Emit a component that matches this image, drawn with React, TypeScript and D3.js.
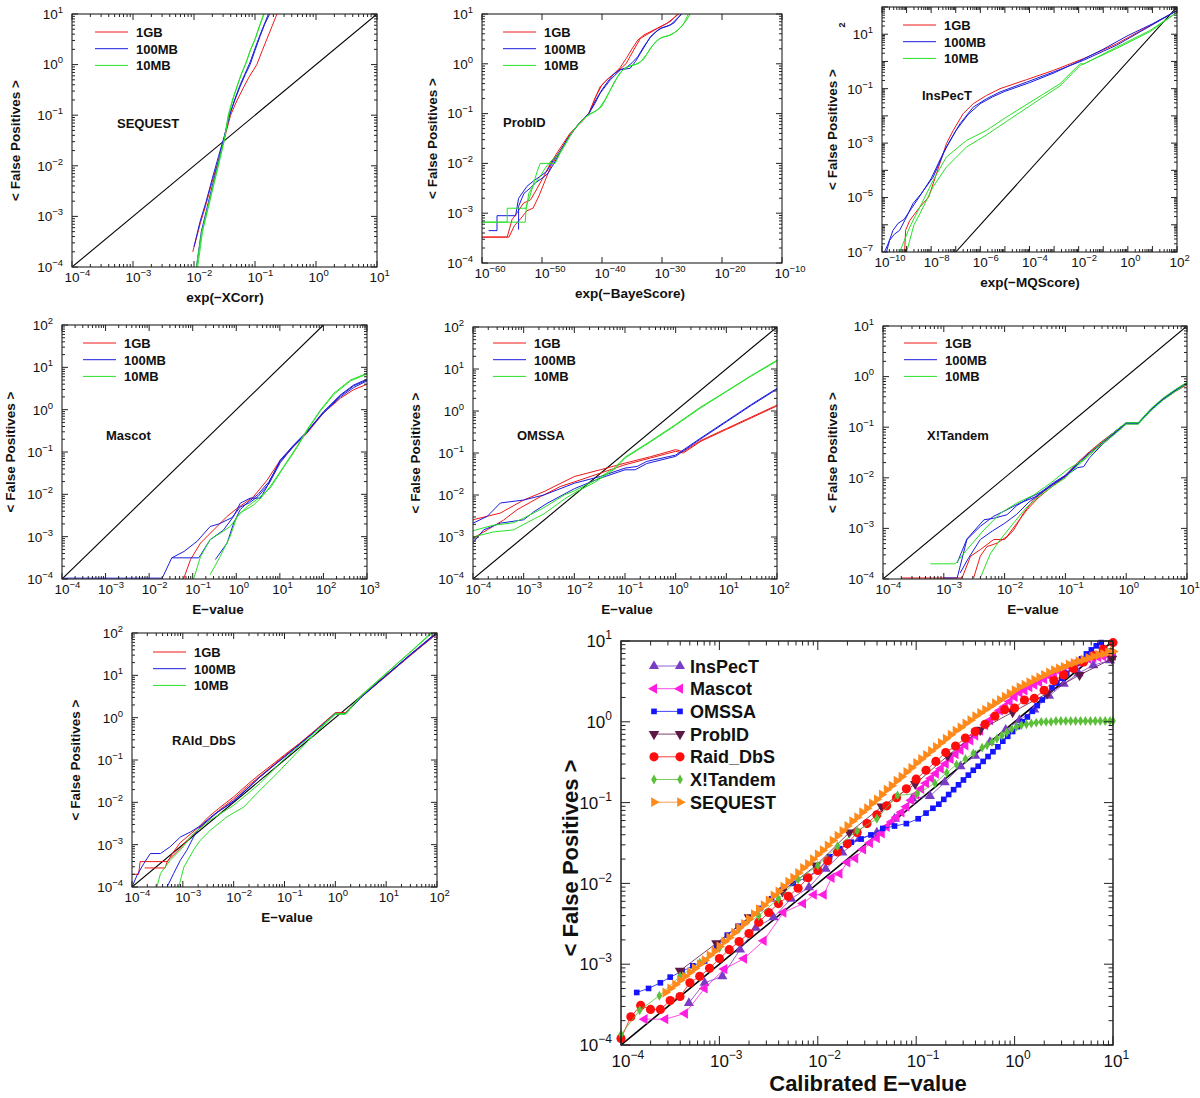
import React from "react";
import * as d3 from "d3";

type P = [number, number]; // [log10 score, log10 <False Positives>]

// ---------------- SEQUEST panel ----------------
const seqRed1: P[] = [[-2.02,-3.7],[-1.9,-3.15],[-1.8,-2.75],[-1.7,-2.3],[-1.6,-1.9],[-1.5,-1.45],[-1.4,-1.0],[-1.3,-0.72],[-1.2,-0.48],[-1.1,-0.25],[-0.97,0],[-0.88,0.28],[-0.8,0.52],[-0.72,0.76],[-0.64,1.0]];
const seqBlue1: P[] = [[-2.0,-3.6],[-1.9,-3.1],[-1.8,-2.7],[-1.7,-2.25],[-1.6,-1.82],[-1.5,-1.4],[-1.42,-1.0],[-1.33,-0.7],[-1.25,-0.45],[-1.16,-0.2],[-1.08,0],[-1.0,0.28],[-0.92,0.55],[-0.84,0.8],[-0.76,1.0]];
const seqBlue2: P[] = [[-1.96,-4.0],[-1.88,-3.3],[-1.78,-2.8],[-1.68,-2.3],[-1.58,-1.82],[-1.5,-1.42],[-1.42,-1.02],[-1.33,-0.68],[-1.25,-0.42],[-1.16,-0.17],[-1.08,0.05],[-1.0,0.32],[-0.92,0.58],[-0.84,0.82],[-0.78,1.0]];
const seqGreen1: P[] = [[-1.96,-4.0],[-1.88,-3.35],[-1.78,-2.85],[-1.68,-2.35],[-1.58,-1.85],[-1.5,-1.45],[-1.44,-1.0],[-1.37,-0.7],[-1.3,-0.45],[-1.23,-0.2],[-1.16,0],[-1.08,0.27],[-1.0,0.5],[-0.93,0.75],[-0.86,1.0]];
const seqGreen2: P[] = [[-1.94,-4.0],[-1.86,-3.3],[-1.76,-2.8],[-1.66,-2.3],[-1.57,-1.85],[-1.5,-1.48],[-1.43,-1.0],[-1.36,-0.68],[-1.29,-0.42],[-1.22,-0.18],[-1.15,0.02],[-1.07,0.3],[-0.99,0.53],[-0.92,0.78],[-0.85,1.0]];

// ---------------- ProbID panel ----------------
const pidRed1: P[] = [[-60,-3.48],[-55.8,-3.48],[-55,-3.13],[-54.2,-3.0],[-53.1,-2.8],[-51.9,-2.73],[-50.8,-2.5],[-49.7,-2.26],[-48.6,-2.0],[-47.5,-1.79],[-46.4,-1.59],[-45.3,-1.39],[-44.2,-1.26],[-43.1,-1.13],[-42.2,-1.0],[-41.2,-0.7],[-40.3,-0.46],[-38.9,-0.29],[-37.5,-0.16],[-36,0.0],[-34.7,0.28],[-33.6,0.51],[-32.2,0.61],[-30.8,0.71],[-29.2,0.81],[-27.2,1.0]];
const pidRed2: P[] = [[-60,-3.48],[-55.5,-3.48],[-54.6,-3.25],[-53.5,-3.1],[-52.5,-2.95],[-51.5,-2.9],[-50.5,-2.65],[-49.5,-2.35],[-48.5,-2.05],[-47.5,-1.85],[-46.5,-1.65],[-45.5,-1.45],[-44.5,-1.3],[-43.5,-1.15],[-42.2,-1.0],[-41,-0.65],[-40,-0.42],[-39,-0.3],[-38,-0.2],[-37,-0.08],[-36,0.1],[-35,0.3],[-34,0.48],[-33,0.58],[-31.5,0.67],[-30,0.76],[-28.5,0.86],[-27.4,1.0]];
const pidBlue1: P[] = [[-58.9,-3.35],[-57.5,-3.35],[-57.5,-3.05],[-54.4,-3.05],[-53.9,-2.7],[-52.5,-2.46],[-51.4,-2.35],[-50.3,-2.26],[-49.2,-2.16],[-48.2,-1.95],[-47,-1.75],[-45.8,-1.53],[-44.2,-1.25],[-42.2,-1.0],[-41.2,-0.8],[-40.3,-0.59],[-38.6,-0.32],[-36.9,-0.12],[-35.3,-0.09],[-34.4,0.05],[-33.6,0.21],[-31.9,0.55],[-30.3,0.71],[-28.6,0.78],[-26.7,1.0]];
const pidBlue2: P[] = [[-53.9,-3.33],[-53.9,-2.86],[-53,-2.6],[-52,-2.5],[-51,-2.38],[-50,-2.3],[-49,-2.2],[-48,-2.0],[-47,-1.78],[-46,-1.55],[-45,-1.38],[-44,-1.22],[-43,-1.1],[-42.2,-1.0],[-41,-0.72],[-40,-0.52],[-39,-0.35],[-38,-0.2],[-37,-0.12],[-36,-0.08],[-35,0.02],[-34,0.15],[-33,0.35],[-32,0.52],[-31,0.65],[-30,0.72],[-29,0.76],[-28,0.82],[-26.8,1.0]];
const pidGreen1: P[] = [[-60,-3.18],[-52.8,-3.18],[-52.6,-2.85],[-52,-2.65],[-50.8,-2.16],[-50.3,-2.0],[-47.8,-2.0],[-47,-1.8],[-46,-1.6],[-45,-1.38],[-44,-1.22],[-43,-1.1],[-42,-1.0],[-41,-0.95],[-40,-0.85],[-39,-0.62],[-38,-0.38],[-37,-0.18],[-36,-0.07],[-35,-0.03],[-34,0.0],[-33,0.1],[-32,0.3],[-31,0.45],[-30,0.53],[-29,0.56],[-28,0.62],[-27,0.72],[-26,0.86],[-25.3,1.0]];
const pidGreen2: P[] = [[-60,-3.18],[-55.8,-3.18],[-55.8,-2.9],[-52.6,-2.9],[-52.2,-2.6],[-51.2,-2.4],[-50.5,-2.3],[-49.5,-2.1],[-48.5,-1.95],[-47.5,-1.85],[-46.5,-1.68],[-45.5,-1.48],[-44.5,-1.3],[-43.5,-1.16],[-42.5,-1.05],[-41.5,-0.98],[-40.5,-0.9],[-39.5,-0.72],[-38.5,-0.5],[-37.5,-0.28],[-36.5,-0.12],[-35.5,-0.05],[-34.5,-0.02],[-33.5,0.05],[-32.5,0.2],[-31.5,0.38],[-30.5,0.5],[-29.5,0.55],[-28.5,0.58],[-27.5,0.66],[-26.5,0.78],[-25.6,1.0]];

// ---------------- InsPecT panel ----------------
const insRed1: P[] = [[-9.08,-7],[-9.04,-6.2],[-8.87,-5.84],[-8.46,-5.35],[-8.1,-4.98],[-7.92,-4.49],[-7.65,-3.76],[-7.38,-3.02],[-7.1,-2.53],[-6.7,-1.92],[-6.29,-1.55],[-5.75,-1.25],[-5.2,-1.0],[-4.12,-0.67],[-3.03,-0.33],[-1.81,0.1],[-0.45,0.65],[0.91,1.32],[2,1.87]];
const insBlue1: P[] = [[-9.82,-7],[-9.69,-6.57],[-9.5,-6.35],[-9.28,-6.2],[-9.0,-5.71],[-8.74,-5.22],[-8.4,-4.85],[-7.92,-4.25],[-7.38,-3.14],[-6.83,-2.29],[-6.29,-1.68],[-5.75,-1.37],[-5.2,-1.12],[-4.12,-0.76],[-3.03,-0.39],[-1.81,0.04],[-0.45,0.6],[0.91,1.3],[2,1.87]];
const insBlue2: P[] = [[-9.9,-7],[-9.75,-6.7],[-9.55,-6.2],[-9.35,-5.95],[-9.1,-5.8],[-8.8,-5.4],[-8.5,-5.0],[-8.0,-4.3],[-7.5,-3.35],[-7.0,-2.55],[-6.5,-1.95],[-6.0,-1.55],[-5.5,-1.3],[-5.0,-1.1],[-4.0,-0.78],[-3.0,-0.42],[-2.0,0.0],[-1.0,0.45],[0,0.95],[1,1.38],[2,1.87]];
const insGreen1: P[] = [[-9.28,-7],[-8.87,-6.08],[-8.46,-5.35],[-7.92,-4.37],[-7.38,-3.51],[-6.56,-2.9],[-5.75,-2.53],[-4.93,-2.04],[-3.85,-1.43],[-2.76,-0.82],[-1.94,-0.08],[-1.8,-0.1],[-0.45,0.53],[0.91,1.14],[2,1.81]];
const insGreen2: P[] = [[-9.0,-7],[-8.7,-6.0],[-8.46,-5.6],[-7.92,-4.6],[-7.38,-3.88],[-6.56,-3.14],[-5.75,-2.7],[-4.93,-2.2],[-3.85,-1.55],[-2.76,-0.9],[-1.94,-0.15],[-0.45,0.48],[0.91,1.1],[2,1.8]];

// ---------------- Mascot panel ----------------
const masRed1: P[] = [[-1.21,-4],[-1.05,-3.54],[-0.82,-3.15],[-0.52,-2.84],[-0.21,-2.52],[0.02,-2.33],[0.2,-2.2],[0.4,-2.05],[0.71,-1.66],[1.01,-1.19],[1.32,-0.87],[1.62,-0.56],[2.0,-0.08],[2.39,0.27],[2.69,0.47],[3,0.6]];
const masBlue1: P[] = [[-4,-3.98],[-1.7,-3.98],[-1.48,-3.5],[-0.86,-3.5],[-0.6,-3.07],[-0.3,-2.85],[-0.06,-2.52],[0.09,-2.21],[0.32,-2.09],[0.55,-2.09],[0.71,-1.81],[1.01,-1.19],[1.32,-0.83],[1.62,-0.52],[2,-0.05],[2.39,0.35],[2.69,0.58],[3,0.72]];
const masBlue2: P[] = [[-1.48,-3.5],[-1.2,-3.35],[-0.95,-3.15],[-0.9,-3.11],[-0.6,-2.76],[-0.4,-2.7],[-0.1,-2.55],[0.09,-2.3],[0.3,-2.2],[0.5,-2.05],[0.75,-1.75],[1.01,-1.25],[1.32,-0.85],[1.62,-0.52],[2,-0.08],[2.39,0.3],[2.69,0.52],[3,0.68]];
const masBlue3: P[] = [[-0.48,-3.54],[-0.21,-3.15],[-0.06,-2.68],[0.09,-2.36],[0.25,-2.2],[0.5,-2.0],[0.75,-1.7],[1.01,-1.22],[1.32,-0.86],[1.62,-0.54],[2,-0.06],[2.39,0.33],[2.69,0.56],[3,0.7]];
const masGreen1: P[] = [[-0.98,-4],[-0.82,-3.47],[-0.6,-3.07],[-0.37,-2.92],[-0.14,-2.76],[0.09,-2.44],[0.4,-2.25],[0.6,-2.05],[0.78,-1.81],[1.09,-1.34],[1.39,-0.87],[1.62,-0.48],[1.93,-0.01],[2.24,0.39],[2.62,0.7],[3,0.86]];
const masGreen2: P[] = [[-0.6,-3.9],[-0.37,-3.47],[-0.14,-2.99],[0.02,-2.52],[0.25,-2.29],[0.5,-2.1],[0.78,-1.85],[1.09,-1.36],[1.39,-0.9],[1.62,-0.5],[1.93,-0.03],[2.24,0.36],[2.62,0.68],[3,0.84]];

// ---------------- OMSSA panel ----------------
const omsRed1: P[] = [[-4,-2.59],[-3.46,-2.43],[-3,-2.12],[-2.6,-1.92],[-2,-1.56],[-1.49,-1.4],[-1,-1.24],[-0.5,-1.09],[0,-0.92],[0.15,-0.97],[0.5,-0.7],[1,-0.42],[1.5,-0.14],[2,0.14]];
const omsRed2: P[] = [[-4,-3.03],[-3.72,-2.83],[-3.4,-2.6],[-3.13,-2.35],[-2.67,-2.04],[-2.28,-1.8],[-1.88,-1.64],[-1.49,-1.48],[-1,-1.28],[-0.5,-1.12],[0,-0.96],[0.15,-1.0],[0.5,-0.72],[1,-0.44],[1.5,-0.16],[2,0.12]];
const omsBlue1: P[] = [[-4,-2.67],[-3.72,-2.51],[-3.46,-2.19],[-3,-2.12],[-2.6,-2.0],[-2,-1.72],[-1.49,-1.56],[-1,-1.36],[-0.76,-1.32],[-0.57,-1.2],[0,-1.05],[0.5,-0.64],[1,-0.24],[1.5,0.16],[2,0.54]];
const omsBlue2: P[] = [[-4,-3.14],[-3.79,-2.83],[-3.46,-2.67],[-3,-2.59],[-2.8,-2.4],[-2.54,-2.2],[-2,-1.85],[-1.49,-1.6],[-1,-1.4],[-0.8,-1.4],[-0.57,-1.25],[0,-1.08],[0.5,-0.66],[1,-0.26],[1.5,0.14],[2,0.52]];
const omsGreen1: P[] = [[-4,-2.85],[-3.6,-2.72],[-3.2,-2.66],[-3.0,-2.55],[-2.6,-2.3],[-2.2,-2.0],[-2.0,-1.9],[-1.6,-1.66],[-1.2,-1.35],[-1,-1.1],[-0.5,-0.72],[0,-0.32],[0.5,0.1],[1,0.47],[1.5,0.85],[2,1.21]];
const omsGreen2: P[] = [[-4,-3.0],[-3.6,-2.88],[-3.2,-2.83],[-3.0,-2.7],[-2.6,-2.45],[-2.2,-2.1],[-2.0,-1.95],[-1.6,-1.7],[-1.2,-1.38],[-1,-1.12],[-0.5,-0.74],[0,-0.34],[0.5,0.08],[1,0.46],[1.5,0.84],[2,1.19]];

// ---------------- X!Tandem panel ----------------
const xtRed1: P[] = [[-3.7,-3.98],[-2.7,-3.98],[-2.56,-3.55],[-2.4,-3.42],[-2.18,-3.22],[-2.0,-3.22],[-1.85,-3.03],[-1.69,-2.7],[-1.52,-2.43],[-1.2,-2.12],[-1.0,-1.95],[-0.8,-1.7],[-0.6,-1.48],[-0.4,-1.28],[-0.2,-1.1],[0,-0.92],[0.2,-0.92],[0.4,-0.66],[0.6,-0.46],[0.8,-0.3],[1,-0.16]];
const xtRed2: P[] = [[-2.51,-3.98],[-2.4,-3.55],[-2.29,-3.36],[-2.12,-3.29],[-1.96,-3.16],[-1.8,-2.9],[-1.63,-2.63],[-1.45,-2.4],[-1.2,-2.15],[-1.0,-1.98],[-0.8,-1.73],[-0.6,-1.52],[-0.4,-1.32],[-0.2,-1.13],[0,-0.93],[0.2,-0.93],[0.4,-0.67],[0.6,-0.46],[0.8,-0.29],[1,-0.15]];
const xtBlue1: P[] = [[-3,-3.98],[-2.78,-3.98],[-2.62,-3.22],[-2.4,-2.96],[-2.18,-2.76],[-1.96,-2.63],[-1.75,-2.5],[-1.5,-2.38],[-1.2,-2.12],[-1.0,-1.96],[-0.8,-1.8],[-0.7,-1.78],[-0.6,-1.6],[-0.4,-1.35],[-0.2,-1.14],[0,-0.93],[0.2,-0.93],[0.4,-0.67],[0.6,-0.46],[0.8,-0.29],[1,-0.14]];
const xtBlue2: P[] = [[-2.78,-3.68],[-2.62,-3.21],[-2.34,-2.83],[-2.18,-2.8],[-1.96,-2.73],[-1.8,-2.55],[-1.6,-2.4],[-1.4,-2.28],[-1.2,-2.1],[-1.0,-1.95],[-0.8,-1.72],[-0.6,-1.5],[-0.4,-1.3],[-0.2,-1.1],[0,-0.91],[0.2,-0.91],[0.4,-0.65],[0.6,-0.44],[0.8,-0.27],[1,-0.12]];
const xtBlue3: P[] = [[-2.73,-3.88],[-2.6,-3.6],[-2.4,-3.22],[-2.2,-3.05],[-2.0,-2.9],[-1.8,-2.72],[-1.6,-2.48],[-1.4,-2.3],[-1.2,-2.13],[-1.0,-1.97],[-0.8,-1.74],[-0.6,-1.51],[-0.4,-1.31],[-0.2,-1.12],[0,-0.92],[0.2,-0.92],[0.4,-0.66],[0.6,-0.45],[0.8,-0.28],[1,-0.13]];
const xtGreen1: P[] = [[-3.22,-3.7],[-2.81,-3.7],[-2.62,-3.42],[-2.34,-3.03],[-2.07,-2.7],[-1.8,-2.5],[-1.52,-2.34],[-1.25,-2.11],[-0.97,-1.84],[-0.7,-1.64],[-0.5,-1.4],[-0.3,-1.2],[-0.1,-1.0],[0,-0.91],[0.2,-0.91],[0.4,-0.64],[0.6,-0.43],[0.8,-0.26],[1,-0.11]];
const xtGreen2: P[] = [[-2.4,-3.98],[-2.23,-3.49],[-2.07,-3.22],[-1.85,-2.89],[-1.65,-2.6],[-1.45,-2.38],[-1.2,-2.16],[-1.0,-2.0],[-0.8,-1.76],[-0.6,-1.55],[-0.4,-1.34],[-0.2,-1.15],[0,-0.94],[0.2,-0.94],[0.4,-0.68],[0.6,-0.47],[0.8,-0.3],[1,-0.14]];

// ---------------- RAId_DbS panel ----------------
const raiRed1: P[] = [[-4,-3.7],[-3.87,-3.7],[-3.84,-3.4],[-3.3,-3.4],[-3.2,-3.2],[-3.05,-2.95],[-2.9,-2.8],[-2.7,-2.6],[-2.5,-2.35],[-2.3,-2.15],[-2.0,-1.87],[-1.7,-1.55],[-1.5,-1.35],[-1.2,-1.07],[-1.0,-0.88],[-0.7,-0.6],[-0.4,-0.3],[0,0.12],[0.2,0.12],[0.5,0.5],[1,1.0],[1.5,1.5],[2,2.0]];
const raiRed2: P[] = [[-3.75,-3.55],[-3.35,-3.55],[-3.3,-3.38],[-3.1,-3.15],[-2.9,-2.88],[-2.7,-2.65],[-2.5,-2.42],[-2.3,-2.2],[-2.0,-1.92],[-1.7,-1.6],[-1.5,-1.4],[-1.2,-1.1],[-1.0,-0.9],[-0.7,-0.62],[-0.4,-0.32],[0,0.1],[0.2,0.1],[0.5,0.48],[1,0.98],[1.5,1.5],[2,1.98]];
const raiBlue1: P[] = [[-4,-4],[-3.9,-3.72],[-3.77,-3.45],[-3.64,-3.21],[-3.44,-3.21],[-3.25,-3.05],[-3.05,-2.82],[-2.85,-2.7],[-2.65,-2.55],[-2.4,-2.3],[-2.0,-1.98],[-1.7,-1.65],[-1.5,-1.42],[-1.2,-1.12],[-1.0,-0.92],[-0.7,-0.62],[-0.4,-0.32],[0,0.1],[0.2,0.1],[0.5,0.48],[1,1.0],[1.5,1.52],[2,2.02]];
const raiBlue2: P[] = [[-3.31,-4],[-3.18,-3.68],[-3.05,-3.37],[-2.92,-3.13],[-2.79,-2.82],[-2.66,-2.58],[-2.5,-2.42],[-2.3,-2.22],[-2.0,-1.96],[-1.7,-1.64],[-1.5,-1.42],[-1.2,-1.12],[-1.0,-0.93],[-0.7,-0.63],[-0.4,-0.33],[0,0.09],[0.2,0.09],[0.5,0.47],[1,0.99],[1.5,1.51],[2,2.0]];
const raiGreen1: P[] = [[-3.51,-4],[-3.44,-3.68],[-3.25,-3.37],[-3.05,-3.13],[-2.79,-2.74],[-2.46,-2.42],[-2.0,-2.07],[-1.48,-1.55],[-1.0,-0.97],[-0.5,-0.45],[0,0.1],[0.2,0.1],[0.5,0.52],[1,1.05],[1.5,1.58],[1.88,2.0]];
const raiGreen2: P[] = [[-3.08,-4],[-2.98,-3.53],[-2.79,-3.13],[-2.66,-2.9],[-2.46,-2.66],[-2.13,-2.34],[-1.8,-2.11],[-1.48,-1.71],[-1.15,-1.32],[-0.8,-0.88],[-0.4,-0.38],[0,0.08],[0.2,0.08],[0.5,0.5],[1,1.04],[1.5,1.57],[1.9,2.0]];

// ---------------- Combined panel (log10 calibrated E-value, log10 <FP>) ----------------
const inspectPts: P[] = [[-3.31,-3.48],[-3.15,-3.23],[-2.97,-3.15],[-2.79,-2.82],[-2.63,-2.55],[-2.45,-2.42],[-2.27,-2.19],[-2.09,-2.05],[-1.92,-1.82],[-1.75,-1.62],[-1.58,-1.45],[-1.4,-1.37],[-1.22,-1.2],[-1.04,-0.95],[-0.86,-0.92],[-0.71,-0.75],[-0.55,-0.55],[-0.4,-0.42],[-0.25,-0.25],[-0.09,-0.1],[0.05,0.02],[0.2,0.15],[0.35,0.32],[0.5,0.47],[0.65,0.6],[0.8,0.7],[0.97,0.76]];
const mascotPts: P[] = [[-3.76,-3.68],[-3.55,-3.68],[-3.35,-3.61],[-3.15,-3.3],[-2.95,-3.06],[-2.75,-2.93],[-2.55,-2.71],[-2.35,-2.36],[-2.15,-2.25],[-2.04,-2.14],[-1.94,-2.14],[-1.86,-1.93],[-1.78,-1.88],[-1.7,-1.74],[-1.62,-1.69],[-1.54,-1.58],[-1.47,-1.5],[-1.4,-1.44],[-1.35,-1.38],[-1.3,-1.3],[-1.25,-1.24],[-1.2,-1.18],[-1.15,-1.12],[-1.1,-1.05],[-1.05,-0.97],[-1.0,-0.9],[-0.95,-0.83],[-0.9,-0.76],[-0.85,-0.7],[-0.8,-0.64],[-0.75,-0.58],[-0.7,-0.52],[-0.65,-0.46],[-0.6,-0.4],[-0.55,-0.35],[-0.5,-0.29],[-0.45,-0.23],[-0.4,-0.17],[-0.35,-0.11],[-0.3,-0.04],[-0.25,0.02],[-0.2,0.08],[-0.15,0.14],[-0.1,0.19],[-0.05,0.25],[0.0,0.31],[0.05,0.36],[0.1,0.39],[0.15,0.43],[0.2,0.46],[0.25,0.49],[0.3,0.53],[0.35,0.57],[0.4,0.6],[0.45,0.63],[0.5,0.66],[0.55,0.69],[0.6,0.72],[0.65,0.74],[0.7,0.76],[0.75,0.78],[0.8,0.79],[0.85,0.8],[0.9,0.81],[0.95,0.82],[1.0,0.82]];
const omssaPts: P[] = [[-3.84,-3.35],[-3.72,-3.3],[-3.6,-3.23],[-3.5,-3.16],[-3.38,-3.09],[-3.27,-3.02],[-3.15,-2.96],[-3.03,-2.8],[-2.92,-2.64],[-2.81,-2.53],[-2.7,-2.43],[-2.59,-2.31],[-2.47,-2.19],[-2.36,-2.08],[-2.25,-2.0],[-2.12,-1.93],[-2.0,-1.84],[-1.88,-1.67],[-1.78,-1.57],[-1.66,-1.49],[-1.56,-1.45],[-1.46,-1.4],[-1.34,-1.32],[-1.22,-1.29],[-1.1,-1.26],[-0.98,-1.2],[-0.9,-1.13],[-0.83,-1.07],[-0.77,-1.02],[-0.72,-0.96],[-0.67,-0.9],[-0.62,-0.84],[-0.57,-0.78],[-0.52,-0.72],[-0.47,-0.66],[-0.42,-0.6],[-0.37,-0.55],[-0.32,-0.49],[-0.27,-0.43],[-0.22,-0.37],[-0.17,-0.31],[-0.12,-0.24],[-0.07,-0.18],[-0.02,-0.12],[0.03,-0.06],[0.08,0.0],[0.13,0.06],[0.18,0.13],[0.23,0.2],[0.28,0.27],[0.33,0.35],[0.38,0.42],[0.43,0.48],[0.48,0.54],[0.53,0.6],[0.58,0.66],[0.63,0.72],[0.68,0.78],[0.73,0.84],[0.78,0.89],[0.83,0.94],[0.88,0.98]];
const probidPts: P[] = [[-3.4,-3.08],[-3.03,-2.74],[-2.7,-2.42],[-2.36,-2.1],[-2.02,-1.78],[-1.68,-1.37],[-1.35,-1.05],[-1.01,-0.77],[-0.68,-0.42],[-0.35,-0.1],[-0.02,0.12],[0.33,0.35],[0.66,0.58],[0.99,0.78]];
const raidPts: P[] = [[-4,-3.92],[-3.9,-3.65],[-3.8,-3.51],[-3.7,-3.56],[-3.6,-3.56],[-3.5,-3.45],[-3.4,-3.4],[-3.3,-3.23],[-3.2,-3.15],[-3.1,-3.05],[-3.0,-2.93],[-2.9,-2.82],[-2.8,-2.72],[-2.7,-2.62],[-2.6,-2.48],[-2.5,-2.36],[-2.4,-2.25],[-2.3,-2.16],[-2.2,-2.06],[-2.1,-1.93],[-2.0,-1.84],[-1.9,-1.72],[-1.8,-1.61],[-1.7,-1.51],[-1.6,-1.37],[-1.5,-1.26],[-1.4,-1.15],[-1.3,-1.04],[-1.2,-0.94],[-1.1,-0.83],[-1.0,-0.71],[-0.9,-0.6],[-0.8,-0.49],[-0.7,-0.38],[-0.6,-0.3],[-0.5,-0.2],[-0.4,-0.12],[-0.3,-0.03],[-0.2,0.07],[-0.1,0.15],[0,0.17],[0.1,0.27],[0.2,0.29],[0.3,0.39],[0.4,0.51],[0.5,0.58],[0.6,0.66],[0.7,0.74],[0.8,0.82],[0.9,0.9],[1.0,0.98]];
const xtandemPts: P[] = [[-4,-3.87],[-3.81,-3.57],[-3.61,-3.39],[-3.4,-3.15],[-3.2,-2.98],[-3.0,-2.8],[-2.8,-2.56],[-2.6,-2.4],[-2.4,-2.19],[-2.2,-1.95],[-2.0,-1.78],[-1.8,-1.54],[-1.6,-1.35],[-1.4,-1.2],[-1.19,-0.91],[-0.99,-0.89],[-0.81,-0.76],[-0.69,-0.63],[-0.59,-0.53],[-0.5,-0.46],[-0.42,-0.39],[-0.33,-0.32],[-0.28,-0.29],[-0.23,-0.25],[-0.18,-0.21],[-0.13,-0.17],[-0.08,-0.13],[-0.03,-0.09],[0.02,-0.06],[0.07,-0.04],[0.12,-0.03],[0.17,-0.02],[0.22,-0.01],[0.27,0.0],[0.32,0.0],[0.37,0.0],[0.42,0.01],[0.47,0.01],[0.52,0.01],[0.57,0.01],[0.62,0.01],[0.67,0.01],[0.72,0.01],[0.77,0.01],[0.82,0.01],[0.87,0.01],[0.92,0.01],[0.97,0.01],[1.0,0.01]];
const sequestPts: P[] = [[-3.55,-3.35],[-3.5,-3.3],[-3.45,-3.25],[-3.4,-3.2],[-3.35,-3.15],[-3.3,-3.1],[-3.25,-3.05],[-3.2,-3.0],[-3.15,-2.95],[-3.1,-2.89],[-3.05,-2.84],[-3.0,-2.78],[-2.95,-2.72],[-2.9,-2.67],[-2.85,-2.61],[-2.8,-2.55],[-2.75,-2.5],[-2.7,-2.44],[-2.65,-2.38],[-2.6,-2.32],[-2.55,-2.27],[-2.5,-2.21],[-2.45,-2.15],[-2.4,-2.1],[-2.35,-2.04],[-2.3,-1.98],[-2.25,-1.93],[-2.2,-1.87],[-2.15,-1.81],[-2.1,-1.76],[-2.05,-1.7],[-2.0,-1.64],[-1.95,-1.59],[-1.9,-1.53],[-1.85,-1.47],[-1.8,-1.41],[-1.75,-1.35],[-1.7,-1.29],[-1.65,-1.23],[-1.6,-1.18],[-1.55,-1.12],[-1.5,-1.07],[-1.45,-1.01],[-1.4,-0.96],[-1.35,-0.9],[-1.3,-0.84],[-1.25,-0.79],[-1.2,-0.73],[-1.15,-0.68],[-1.1,-0.62],[-1.05,-0.57],[-1.0,-0.51],[-0.95,-0.46],[-0.9,-0.41],[-0.85,-0.36],[-0.8,-0.31],[-0.75,-0.26],[-0.7,-0.21],[-0.65,-0.16],[-0.6,-0.11],[-0.55,-0.07],[-0.5,-0.02],[-0.45,0.02],[-0.4,0.07],[-0.35,0.11],[-0.3,0.15],[-0.25,0.19],[-0.2,0.23],[-0.15,0.27],[-0.1,0.31],[-0.05,0.35],[0.0,0.39],[0.05,0.43],[0.1,0.46],[0.15,0.49],[0.2,0.52],[0.25,0.55],[0.3,0.58],[0.35,0.61],[0.4,0.64],[0.45,0.66],[0.5,0.68],[0.55,0.71],[0.6,0.73],[0.65,0.75],[0.7,0.77],[0.75,0.79],[0.8,0.81],[0.85,0.83],[0.9,0.84],[0.95,0.86],[1.0,0.87]];

const dbLabels = ["1GB", "100MB", "10MB"];
const bigNames = ["InsPecT", "Mascot", "OMSSA", "ProbID", "Raid_DbS", "X!Tandem", "SEQUEST"];

// ---------------- styling / layout ----------------
const FONT = "'Liberation Sans', Arial, Helvetica, sans-serif";
const MINUS = "\u2212";
const RED = "#f01818";
const BLUE = "#1c1ce0";
const GREEN = "#28e028";
const dbColors = [RED, BLUE, GREEN];

const pw = (e: number) => Math.pow(10, e);
const expStr = (e: number) => (e < 0 ? MINUS + Math.abs(e) : String(e));

const panels = [
  { name: "SEQUEST", nx: 117, ny: 128, x0: 72, x1: 377, y0: 14, y1: 267, xExp: [-4, 1], yExp: [-4, 1], xMaj: 1, xLab: 1, yLab: 1, xMinor: true,
    xTitle: "exp(" + MINUS + "XCorr)", tx: 225, yt: 15, diag: true, lx: 95, ly: 32,
    series: [[seqRed1, 0], [seqBlue1, 1], [seqBlue2, 1], [seqGreen1, 2], [seqGreen2, 2]] },
  { name: "ProbID", nx: 503, ny: 127, x0: 482, x1: 782, y0: 14, y1: 263, xExp: [-60, -10], yExp: [-4, 1], xMaj: 10, xLab: 10, yLab: 1, xMinor: false,
    xTitle: "exp(" + MINUS + "BayeScore)", tx: 630, yt: 432, diag: false, lx: 503, ly: 32,
    series: [[pidRed1, 0], [pidRed2, 0], [pidBlue1, 1], [pidBlue2, 1], [pidGreen1, 2], [pidGreen2, 2]] },
  { name: "InsPecT", nx: 922, ny: 100, x0: 882, x1: 1177, y0: 7, y1: 252, xExp: [-10, 2], yExp: [-7, 2], xMaj: 1, xLab: 2, yLab: 2, xMinor: true,
    xTitle: "exp(" + MINUS + "MQScore)", tx: 1030, yt: 832, diag: true, lx: 903, ly: 25, sq: true,
    series: [[insRed1, 0], [insBlue1, 1], [insBlue2, 1], [insGreen1, 2], [insGreen2, 2]] },
  { name: "Mascot", nx: 106, ny: 440, x0: 62, x1: 367, y0: 325, y1: 579, xExp: [-4, 3], yExp: [-4, 2], xMaj: 1, xLab: 1, yLab: 1, xMinor: true,
    xTitle: "E" + MINUS + "value", tx: 218, yt: 10, diag: true, lx: 83, ly: 343,
    series: [[masRed1, 0], [masBlue1, 1], [masBlue2, 1], [masBlue3, 1], [masGreen1, 2], [masGreen2, 2]] },
  { name: "OMSSA", nx: 517, ny: 440, x0: 473, x1: 777, y0: 327, y1: 579, xExp: [-4, 2], yExp: [-4, 2], xMaj: 1, xLab: 1, yLab: 1, xMinor: true,
    xTitle: "E" + MINUS + "value", tx: 627, yt: 415, diag: true, lx: 493, ly: 343,
    series: [[omsRed1, 0], [omsRed2, 0], [omsBlue1, 1], [omsBlue2, 1], [omsGreen1, 2], [omsGreen2, 2]] },
  { name: "X!Tandem", nx: 927, ny: 440, x0: 883, x1: 1187, y0: 326, y1: 579, xExp: [-4, 1], yExp: [-4, 1], xMaj: 1, xLab: 1, yLab: 1, xMinor: true,
    xTitle: "E" + MINUS + "value", tx: 1033, yt: 832, diag: true, lx: 904, ly: 343,
    series: [[xtRed1, 0], [xtRed2, 0], [xtBlue1, 1], [xtBlue2, 1], [xtBlue3, 1], [xtGreen1, 2], [xtGreen2, 2]] },
  { name: "RAId_DbS", nx: 172, ny: 745, x0: 132, x1: 437, y0: 633, y1: 887, xExp: [-4, 2], yExp: [-4, 2], xMaj: 1, xLab: 1, yLab: 1, xMinor: true,
    xTitle: "E" + MINUS + "value", tx: 287, yt: 75, diag: true, lx: 153, ly: 652,
    series: [[raiRed1, 0], [raiRed2, 0], [raiBlue1, 1], [raiBlue2, 1], [raiGreen1, 2], [raiGreen2, 2]] },
];

const bigStyles = [
  { pts: inspectPts, color: "#7a3cc4", shape: "up", size: 44 },
  { pts: mascotPts, color: "#ff1ee0", shape: "left", size: 46 },
  { pts: omssaPts, color: "#1414ff", shape: "square", size: 32 },
  { pts: probidPts, color: "#5e1848", shape: "down", size: 48 },
  { pts: raidPts, color: "#ff0d0d", shape: "circle", size: 66 },
  { pts: xtandemPts, color: "#5cbf3a", shape: "diamond", size: 28 },
  { pts: sequestPts, color: "#ff8a1c", shape: "right", size: 42 },
];

function range(a: number, b: number, s: number) {
  const out: number[] = [];
  for (let v = a; v <= b + 1e-9; v += s) out.push(v);
  return out;
}

function Axes(props: any) {
  const { xs, ys, x0, x1, y0, y1, xExp, yExp, xMaj, xLab, yLab, xMinor, fs, efs, L, Lm, xLabY, yLabX, sup } = props;
  const xMajor = range(xExp[0], xExp[1], xMaj);
  const yMajor = range(yExp[0], yExp[1], 1);
  const xMin: number[] = [];
  if (xMinor) for (let e = xExp[0]; e < xExp[1]; e++) for (let k = 2; k <= 9; k++) xMin.push(e + Math.log10(k));
  const yMin: number[] = [];
  for (let e = yExp[0]; e < yExp[1]; e++) for (let k = 2; k <= 9; k++) yMin.push(e + Math.log10(k));
  const w10 = fs * 1.112;
  const out: any[] = [];
  xMajor.forEach((e: number, i: number) => {
    const x = xs(pw(e));
    out.push(<line key={"xM" + i} x1={x} x2={x} y1={y1} y2={y1 - L} />);
    out.push(<line key={"xMt" + i} x1={x} x2={x} y1={y0} y2={y0 + L} />);
  });
  xMin.forEach((e, i) => {
    const x = xs(pw(e));
    out.push(<line key={"xm" + i} x1={x} x2={x} y1={y1} y2={y1 - Lm} />);
    out.push(<line key={"xmt" + i} x1={x} x2={x} y1={y0} y2={y0 + Lm} />);
  });
  yMajor.forEach((e: number, i: number) => {
    const y = ys(pw(e));
    out.push(<line key={"yM" + i} x1={x0} x2={x0 + L} y1={y} y2={y} />);
    out.push(<line key={"yMr" + i} x1={x1} x2={x1 - L} y1={y} y2={y} />);
  });
  yMin.forEach((e, i) => {
    const y = ys(pw(e));
    out.push(<line key={"ym" + i} x1={x0} x2={x0 + Lm} y1={y} y2={y} />);
    out.push(<line key={"ymr" + i} x1={x1} x2={x1 - Lm} y1={y} y2={y} />);
  });
  const labels: any[] = [];
  xMajor.forEach((e: number, i: number) => {
    if (Math.round(e - xExp[0]) % xLab !== 0) return;
    const x = xs(pw(e));
    labels.push(
      <text key={"xl" + i} x={x - w10 / 2} y={xLabY} fontSize={fs} textAnchor="start">
        10<tspan dy={-sup} fontSize={efs}>{expStr(e)}</tspan>
      </text>
    );
  });
  yMajor.forEach((e: number, i: number) => {
    if (Math.round(e - yExp[0]) % yLab !== 0) return;
    const y = ys(pw(e));
    labels.push(
      <text key={"yl" + i} x={yLabX} y={y + fs * 0.36} fontSize={fs} textAnchor="end">
        10<tspan dy={-sup} fontSize={efs}>{expStr(e)}</tspan>
      </text>
    );
  });
  return (
    <g>
      <g stroke="#222" strokeWidth={1}>{out}</g>
      <g fill="#111">{labels}</g>
    </g>
  );
}

function SmallPanel({ cfg, id }: any) {
  const { x0, x1, y0, y1, xExp, yExp } = cfg;
  const xs = d3.scaleLog().domain([pw(xExp[0]), pw(xExp[1])]).range([x0, x1]);
  const ys = d3.scaleLog().domain([pw(yExp[0]), pw(yExp[1])]).range([y1, y0]);
  const line = d3.line<P>().x((d) => xs(pw(d[0]))).y((d) => ys(pw(d[1])));
  const lo = Math.max(xExp[0], yExp[0]);
  const hi = Math.min(xExp[1], yExp[1]);
  const cy = (y0 + y1) / 2;
  return (
    <g>
      <clipPath id={"clip" + id}>
        <rect x={x0} y={y0} width={x1 - x0} height={y1 - y0} />
      </clipPath>
      <g clipPath={`url(#clip${id})`} fill="none">
        {cfg.diag && <path d={line([[lo, lo], [hi, hi]]) || ""} stroke="#000" strokeWidth={1.1} />}
        {cfg.series.map((s: any, i: number) => (
          <path key={i} d={line(s[0]) || ""} stroke={dbColors[s[1]]} strokeWidth={1} />
        ))}
      </g>
      <rect x={x0} y={y0} width={x1 - x0} height={y1 - y0} fill="none" stroke="#222" strokeWidth={1.1} />
      <Axes xs={xs} ys={ys} x0={x0} x1={x1} y0={y0} y1={y1} xExp={xExp} yExp={yExp} xMaj={cfg.xMaj} xLab={cfg.xLab}
        yLab={cfg.yLab} xMinor={cfg.xMinor} fs={13.5} efs={9.5} L={6} Lm={3} xLabY={y1 + 15} yLabX={x0 - 9} sup={6} />
      {dbLabels.map((t, i) => {
        const y = cfg.ly + i * 16.7;
        return (
          <g key={t}>
            <line x1={cfg.lx} x2={cfg.lx + 33} y1={y} y2={y} stroke={dbColors[i]} strokeWidth={1} />
            <text x={cfg.lx + 41} y={y + 4.8} fontSize={13} fontWeight="bold" fill="#111">{t}</text>
          </g>
        );
      })}
      <text x={cfg.nx} y={cfg.ny} fontSize={13} fontWeight="bold" fill="#111">{cfg.name}</text>
      <text x={cfg.tx} y={y1 + 35} fontSize={13.5} fontWeight="bold" textAnchor="middle" fill="#111">{cfg.xTitle}</text>
      <text x={cfg.yt} y={cy} dy="0.35em" fontSize={13.5} fontWeight="bold" textAnchor="middle" fill="#111"
        transform={`rotate(-90, ${cfg.yt}, ${cy})`}>{"< False Positives >"}</text>
      {cfg.sq && (
        <text x={cfg.yt + 10} y={25} dy="0.35em" fontSize={9} fontWeight="bold" textAnchor="middle" fill="#111"
          transform={`rotate(-90, ${cfg.yt + 10}, 25)`}>2</text>
      )}
    </g>
  );
}

function symbolPath(shape: string, size: number) {
  const t =
    shape === "square" ? d3.symbolSquare : shape === "circle" ? d3.symbolCircle : shape === "diamond" ? d3.symbolDiamond : d3.symbolTriangle;
  return d3.symbol().type(t).size(size)() || "";
}
const rot: any = { up: 0, right: 90, down: 180, left: -90, square: 0, circle: 0, diamond: 0 };

function BigPanel() {
  const x0 = 621, x1 = 1113, y0 = 641, y1 = 1045;
  const xExp = [-4, 1], yExp = [-4, 1];
  const xs = d3.scaleLog().domain([pw(xExp[0]), pw(xExp[1])]).range([x0, x1]);
  const ys = d3.scaleLog().domain([pw(yExp[0]), pw(yExp[1])]).range([y1, y0]);
  const line = d3.line<P>().x((d) => xs(pw(d[0]))).y((d) => ys(pw(d[1])));
  return (
    <g>
      <clipPath id="clipBig">
        <rect x={x0} y={y0} width={x1 - x0} height={y1 - y0} />
      </clipPath>
      <path d={line([[-4, -4], [1, 1]]) || ""} stroke="#000" strokeWidth={1.6} fill="none" clipPath="url(#clipBig)" />
      {bigStyles.map((s, i) => {
        const sym = symbolPath(s.shape, s.size);
        return (
          <g key={i}>
            <path d={line(s.pts) || ""} stroke={s.color} strokeWidth={0.8} fill="none" clipPath="url(#clipBig)" />
            {s.pts.map((p, j) => (
              <path key={j} d={sym} fill={s.color}
                transform={`translate(${xs(pw(p[0]))},${ys(pw(p[1]))}) rotate(${rot[s.shape]})`} />
            ))}
          </g>
        );
      })}
      <rect x={x0} y={y0} width={x1 - x0} height={y1 - y0} fill="none" stroke="#222" strokeWidth={1.5} />
      <Axes xs={xs} ys={ys} x0={x0} x1={x1} y0={y0} y1={y1} xExp={xExp} yExp={yExp} xMaj={1} xLab={1} yLab={1}
        xMinor={true} fs={17} efs={12} L={9} Lm={4.5} xLabY={1067} yLabX={612} sup={8} />
      {bigStyles.map((s, i) => {
        const y = 666 + i * 22.7;
        const sym = symbolPath(s.shape, s.size);
        return (
          <g key={"lg" + i}>
            <line x1={654} x2={680} y1={y} y2={y} stroke={s.color} strokeWidth={0.8} />
            <path d={sym} fill={s.color} transform={`translate(654,${y}) rotate(${rot[s.shape]})`} />
            <path d={sym} fill={s.color} transform={`translate(680,${y}) rotate(${rot[s.shape]})`} />
            <text x={690} y={y + 6.5} fontSize={18} fontWeight="bold" fill="#111">{bigNames[i]}</text>
          </g>
        );
      })}
      <text x={868} y={1091} fontSize={22} fontWeight="bold" textAnchor="middle" fill="#111">
        {"Calibrated E" + MINUS + "value"}
      </text>
      <text x={570} y={858} dy="0.35em" fontSize={22} fontWeight="bold" textAnchor="middle" fill="#111"
        transform="rotate(-90, 570, 858)">{"< False Positives >"}</text>
    </g>
  );
}

export default function App() {
  return (
    <svg width={1200} height={1098} style={{ position: "absolute", left: 0, top: 0, background: "#fff" }} fontFamily={FONT}>
      <rect width={1200} height={1098} fill="#fff" />
      {panels.map((p, i) => (
        <SmallPanel key={i} id={i} cfg={p} />
      ))}
      <BigPanel />
    </svg>
  );
}
